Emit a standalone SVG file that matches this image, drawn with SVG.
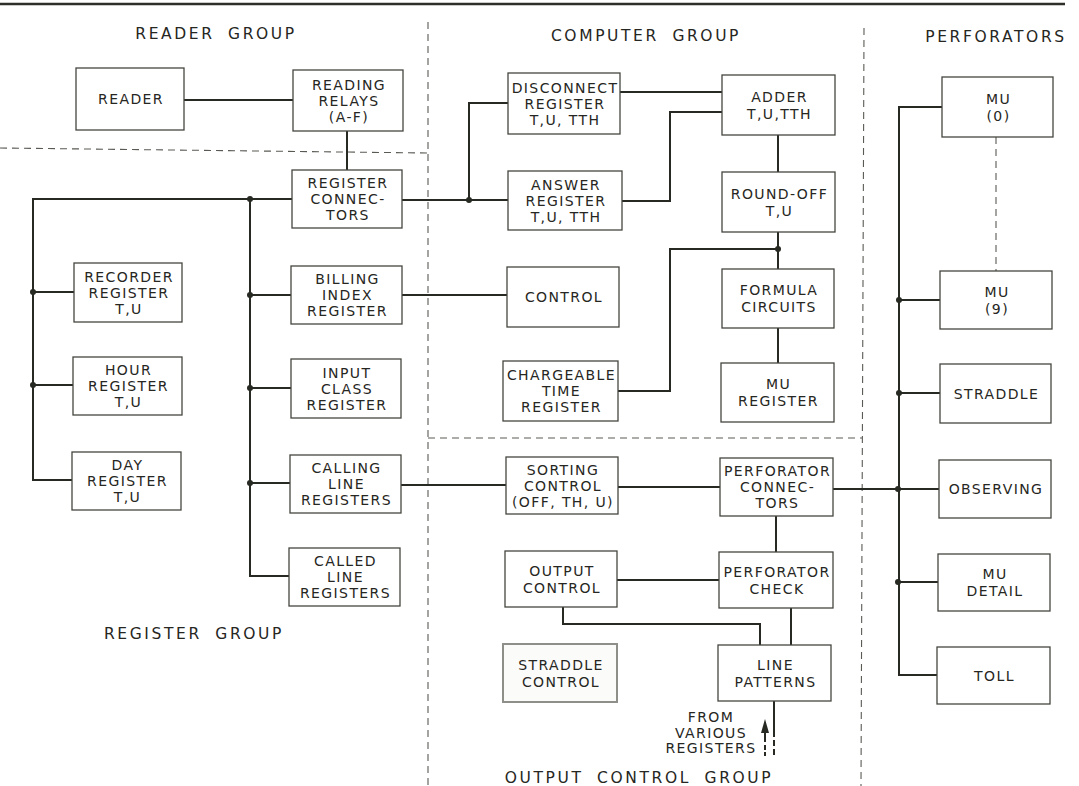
<svg xmlns="http://www.w3.org/2000/svg" width="1079" height="786" viewBox="0 0 1079 786">
<style>
  .box { fill: #ffffff; stroke: #45453f; stroke-width: 1.3; }
  .box2 { fill: #fbfbfa; stroke: #8f8f8a; stroke-width: 2; }
  .lbl { font-family: "DejaVu Sans", sans-serif; font-size: 14px; letter-spacing: 1.4px; fill: #262622; text-anchor: middle; }
  .grp { font-family: "DejaVu Sans", sans-serif; font-size: 15.5px; letter-spacing: 2.6px; word-spacing: 6px; fill: #262622; text-anchor: middle; }
  .wire { fill: none; stroke: #262a22; stroke-width: 2; }
  .dash { fill: none; stroke: #5a5a55; stroke-width: 1.1; stroke-dasharray: 7 5; }
  .dot { fill: #262a22; }
</style>
<rect x="0" y="0" width="1079" height="786" fill="#ffffff"/>
<line x1="0" y1="4" x2="1065" y2="4" stroke="#2e2e2a" stroke-width="2.5"/>

<g id="group-borders">
  <path class="dash" d="M0,148 L428,153"/>
  <path class="dash" d="M428,22 V786"/>
  <path class="dash" d="M428,438 H862"/>
  <path class="dash" d="M864,28 L861,786"/>
</g>

<g id="group-labels">
  <text class="grp" x="216" y="39">READER GROUP</text>
  <text class="grp" x="646" y="41">COMPUTER GROUP</text>
  <text class="grp" x="996" y="42">PERFORATORS</text>
  <text class="grp" x="194" y="639">REGISTER GROUP</text>
  <text class="grp" x="639" y="783">OUTPUT CONTROL GROUP</text>
  <text class="lbl" font-size="13"><tspan x="711" y="722">FROM</tspan><tspan x="711" y="738">VARIOUS</tspan><tspan x="711" y="753">REGISTERS</tspan></text>
</g>

<g id="connectors">
  <path class="wire" d="M184,100 H293"/>
  <path class="wire" d="M347,131 V170"/>
  <path class="wire" d="M292,199 H33 V480 H72"/>
  <path class="wire" d="M33,292 H74"/>
  <path class="wire" d="M33,385 H73"/>
  <path class="wire" d="M250,199 V576 H289"/>
  <path class="wire" d="M250,295 H291"/>
  <path class="wire" d="M250,388 H291"/>
  <path class="wire" d="M250,483 H290"/>
  <path class="wire" d="M402,295 H507"/>
  <path class="wire" d="M402,200 H508"/>
  <path class="wire" d="M469,200 V103 H508"/>
  <path class="wire" d="M620,92 H722"/>
  <path class="wire" d="M622,201 H670 V112 H722"/>
  <path class="wire" d="M778,135 V172"/>
  <path class="wire" d="M778,232 V269"/>
  <path class="wire" d="M618,391 H670 V249 H778"/>
  <path class="wire" d="M778,328 V363"/>
  <path class="wire" d="M401,485 H506"/>
  <path class="wire" d="M618,487 H720"/>
  <path class="wire" d="M833,489 H898"/>
  <path class="wire" d="M776,516 V552"/>
  <path class="wire" d="M617,580 H719"/>
  <path class="wire" d="M563,607 V624 H760 V645"/>
  <path class="wire" d="M791,608 V645"/>
  <path class="wire" d="M774,701 V737"/>
  <path class="wire" d="M774,740 V757" stroke-width="3" stroke-dasharray="6 3"/>
  <path class="wire" d="M765,731 V742" stroke-width="2.5"/>
  <path class="wire" d="M765,745 V756" stroke-width="2.5" stroke-dasharray="5 2"/>
  <polygon points="761,733 765,719 769,733" fill="#262a22"/>
  <path class="wire" d="M942,107 H899 V675 H937"/>
  <path class="wire" d="M899,300 H940"/>
  <path class="wire" d="M899,393 H940"/>
  <path class="wire" d="M898,489 H939"/>
  <path class="wire" d="M898,582 H938"/>
  <path class="dash" d="M996,137 V271" stroke-dasharray="6 4"/>
  <circle class="dot" cx="250" cy="199" r="3"/>
  <circle class="dot" cx="33" cy="292" r="3"/>
  <circle class="dot" cx="33" cy="385" r="3"/>
  <circle class="dot" cx="250" cy="295" r="3"/>
  <circle class="dot" cx="250" cy="388" r="3"/>
  <circle class="dot" cx="250" cy="483" r="3"/>
  <circle class="dot" cx="469" cy="200" r="3"/>
  <circle class="dot" cx="778" cy="249" r="3"/>
  <circle class="dot" cx="899" cy="300" r="3"/>
  <circle class="dot" cx="899" cy="393" r="3"/>
  <circle class="dot" cx="898" cy="489" r="3"/>
  <circle class="dot" cx="898" cy="582" r="3"/>
</g>

<g id="reader"><rect class="box" x="76" y="68" width="108" height="62"/><text class="lbl" x="131" y="104">READER</text></g>
<g id="reading-relays"><rect class="box" x="293" y="70" width="110" height="61"/><text class="lbl"><tspan x="349" y="89.5">READING</tspan><tspan x="349" y="105.5">RELAYS</tspan><tspan x="349" y="121.5">(A-F)</tspan></text></g>
<g id="register-connectors"><rect class="box" x="292" y="170" width="110" height="58"/><text class="lbl"><tspan x="348" y="188">REGISTER</tspan><tspan x="348" y="204">CONNEC-</tspan><tspan x="348" y="220">TORS</tspan></text></g>
<g id="recorder-register"><rect class="box" x="74" y="263" width="108" height="59"/><text class="lbl"><tspan x="129" y="281.8">RECORDER</tspan><tspan x="129" y="298">REGISTER</tspan><tspan x="129" y="314.3">T,U</tspan></text></g>
<g id="hour-register"><rect class="box" x="73" y="357" width="109" height="58"/><text class="lbl"><tspan x="128.5" y="375.3">HOUR</tspan><tspan x="128.5" y="391.3">REGISTER</tspan><tspan x="128.5" y="407.3">T,U</tspan></text></g>
<g id="day-register"><rect class="box" x="72" y="452" width="109" height="58"/><text class="lbl"><tspan x="127.5" y="470.3">DAY</tspan><tspan x="127.5" y="486.3">REGISTER</tspan><tspan x="127.5" y="502.3">T,U</tspan></text></g>
<g id="billing-index-register"><rect class="box" x="291" y="266" width="111" height="58"/><text class="lbl"><tspan x="347.5" y="284">BILLING</tspan><tspan x="347.5" y="300">INDEX</tspan><tspan x="347.5" y="316">REGISTER</tspan></text></g>
<g id="input-class-register"><rect class="box" x="291" y="359" width="110" height="59"/><text class="lbl"><tspan x="347" y="377.5">INPUT</tspan><tspan x="347" y="393.5">CLASS</tspan><tspan x="347" y="409.5">REGISTER</tspan></text></g>
<g id="calling-line-registers"><rect class="box" x="290" y="455" width="111" height="58"/><text class="lbl"><tspan x="346.5" y="473">CALLING</tspan><tspan x="346.5" y="489">LINE</tspan><tspan x="346.5" y="505">REGISTERS</tspan></text></g>
<g id="called-line-registers"><rect class="box" x="289" y="548" width="111" height="58"/><text class="lbl"><tspan x="345.5" y="566">CALLED</tspan><tspan x="345.5" y="582">LINE</tspan><tspan x="345.5" y="598">REGISTERS</tspan></text></g>
<g id="disconnect-register"><rect class="box" x="508" y="73" width="112" height="61"/><text class="lbl"><tspan x="565" y="92.5">DISCONNECT</tspan><tspan x="565" y="108.5">REGISTER</tspan><tspan x="565" y="124.5">T,U, TTH</tspan></text></g>
<g id="answer-register"><rect class="box" x="508" y="171" width="114" height="59"/><text class="lbl"><tspan x="566" y="189.5">ANSWER</tspan><tspan x="566" y="205.5">REGISTER</tspan><tspan x="566" y="221.5">T,U, TTH</tspan></text></g>
<g id="adder"><rect class="box" x="722" y="75" width="113" height="60"/><text class="lbl"><tspan x="779.5" y="101.5">ADDER</tspan><tspan x="779.5" y="118.5">T,U,TTH</tspan></text></g>
<g id="round-off"><rect class="box" x="722" y="172" width="113" height="60"/><text class="lbl"><tspan x="779.5" y="198.5">ROUND-OFF</tspan><tspan x="779.5" y="215.5">T,U</tspan></text></g>
<g id="control"><rect class="box" x="507" y="267" width="112" height="60"/><text class="lbl" x="564" y="302">CONTROL</text></g>
<g id="formula-circuits"><rect class="box" x="722" y="269" width="112" height="59"/><text class="lbl"><tspan x="779" y="295">FORMULA</tspan><tspan x="779" y="312">CIRCUITS</tspan></text></g>
<g id="chargeable-time-register"><rect class="box" x="503" y="361" width="115" height="60"/><text class="lbl"><tspan x="561.5" y="380">CHARGEABLE</tspan><tspan x="561.5" y="396">TIME</tspan><tspan x="561.5" y="412">REGISTER</tspan></text></g>
<g id="mu-register"><rect class="box" x="721" y="363" width="113" height="59"/><text class="lbl"><tspan x="778.5" y="389">MU</tspan><tspan x="778.5" y="406">REGISTER</tspan></text></g>
<g id="sorting-control"><rect class="box" x="506" y="457" width="112" height="57"/><text class="lbl"><tspan x="563" y="474.5">SORTING</tspan><tspan x="563" y="490.5">CONTROL</tspan><tspan x="563" y="506.5">(OFF, TH, U)</tspan></text></g>
<g id="perforator-connectors"><rect class="box" x="720" y="458" width="113" height="58"/><text class="lbl"><tspan x="777.5" y="476">PERFORATOR</tspan><tspan x="777.5" y="492">CONNEC-</tspan><tspan x="777.5" y="508">TORS</tspan></text></g>
<g id="output-control"><rect class="box" x="505" y="551" width="112" height="56"/><text class="lbl"><tspan x="562" y="575.5">OUTPUT</tspan><tspan x="562" y="592.5">CONTROL</tspan></text></g>
<g id="perforator-check"><rect class="box" x="719" y="552" width="114" height="56"/><text class="lbl"><tspan x="777" y="576.5">PERFORATOR</tspan><tspan x="777" y="593.5">CHECK</tspan></text></g>
<g id="straddle-control"><rect class="box2" x="503" y="644" width="114" height="58"/><text class="lbl"><tspan x="561" y="669.5">STRADDLE</tspan><tspan x="561" y="686.5">CONTROL</tspan></text></g>
<g id="line-patterns"><rect class="box" x="718" y="645" width="113" height="56"/><text class="lbl"><tspan x="775.5" y="669.5">LINE</tspan><tspan x="775.5" y="686.5">PATTERNS</tspan></text></g>
<g id="mu-0"><rect class="box" x="942" y="77" width="111" height="60"/><text class="lbl"><tspan x="998.5" y="103.5">MU</tspan><tspan x="998.5" y="120.5">(0)</tspan></text></g>
<g id="mu-9"><rect class="box" x="940" y="271" width="112" height="58"/><text class="lbl"><tspan x="997" y="296.5">MU</tspan><tspan x="997" y="313.5">(9)</tspan></text></g>
<g id="straddle"><rect class="box" x="940" y="364" width="111" height="59"/><text class="lbl" x="996.5" y="398.5">STRADDLE</text></g>
<g id="observing"><rect class="box" x="939" y="460" width="112" height="58"/><text class="lbl" x="996" y="494">OBSERVING</text></g>
<g id="mu-detail"><rect class="box" x="938" y="554" width="112" height="57"/><text class="lbl"><tspan x="995" y="579">MU</tspan><tspan x="995" y="596">DETAIL</tspan></text></g>
<g id="toll"><rect class="box" x="937" y="647" width="113" height="57"/><text class="lbl" x="994.5" y="680.5">TOLL</text></g>
</svg>
